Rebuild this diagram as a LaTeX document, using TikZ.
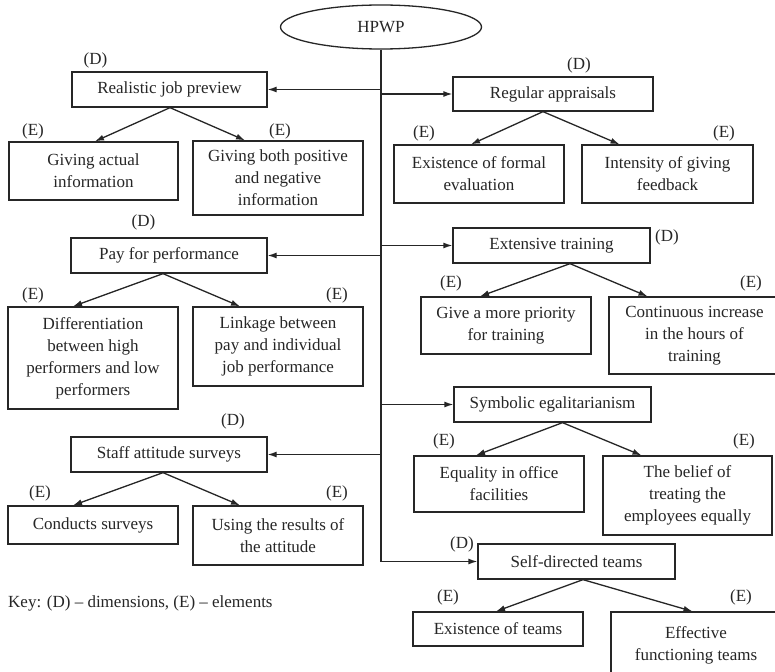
\documentclass[tikz,border=0pt]{standalone}
\usepackage{fontspec}
\setmainfont{Liberation Serif}
\usetikzlibrary{arrows.meta,shapes.geometric}
\definecolor{ink}{HTML}{262626}
\begin{document}
\begin{tikzpicture}[x=1pt,y=-1pt,
  every node/.style={font=\fontsize{17}{22}\selectfont, text=ink},
  box/.style={draw=ink, line width=1.3pt, align=center, inner sep=0pt},
  tag/.style={inner sep=0pt},
  arr/.style={draw=ink, line width=1.3pt, -{Latex[length=9pt,width=6pt]}}]
\fill[white] (0,0) rectangle (775,671);
\useasboundingbox (0,0) rectangle (775,671);

% root
\node[draw=ink, line width=1.3pt, ellipse, minimum width=201pt, minimum height=44pt, inner sep=0pt] (hp) at (381,27) {HPWP};

% dimension boxes
\node[box, minimum width=195pt, minimum height=35pt] (rjp) at (169.5,89.5) {Realistic job preview};
\node[box, minimum width=200pt, minimum height=34pt] (ra)  at (553,94) {Regular appraisals};
\node[box, minimum width=196pt, minimum height=35pt] (pfp) at (169,255.5) {Pay for performance};
\node[box, minimum width=197pt, minimum height=35pt] (et)  at (551.5,245.5) {Extensive training};
\node[box, minimum width=197pt, minimum height=35pt] (se)  at (552.5,404.5) {Symbolic egalitarianism};
\node[box, minimum width=196pt, minimum height=35pt] (sas) at (169,454.5) {Staff attitude surveys};
\node[box, minimum width=197pt, minimum height=35pt] (sdt) at (576.5,561.5) {Self-directed teams};

% element boxes
\node[box, minimum width=169pt, minimum height=58pt] (gai) at (93.5,171) {Giving actual\\information};
\node[box, minimum width=170pt, minimum height=74pt] (gbp) at (278,178) {Giving both positive\\and negative\\information};
\node[box, minimum width=170pt, minimum height=58pt] (efe) at (479,174) {Existence of formal\\evaluation};
\node[box, minimum width=171pt, minimum height=58pt] (igf) at (667.5,174) {Intensity of giving\\feedback};
\node[box, minimum width=170pt, minimum height=102pt] (dhl) at (93,358) {Differentiation\\between high\\performers and low\\performers};
\node[box, minimum width=170pt, minimum height=79pt] (lbp) at (278,346.5) {Linkage between\\pay and individual\\job performance};
\node[box, minimum width=170pt, minimum height=57pt] (gmp) at (506,325.5) {Give a more priority\\for training};
\node[box, minimum width=171pt, minimum height=77pt] (cih) at (694.5,335.5) {Continuous increase\\in the hours of\\training};
\node[box, minimum width=170pt, minimum height=56pt] (eof) at (499,484) {Equality in office\\facilities};
\node[box, minimum width=169pt, minimum height=79pt] (bte) at (687.5,495.5) {The belief of\\treating the\\employees equally};
\node[box, minimum width=170pt, minimum height=38pt] (cs)  at (93,525) {Conducts surveys};
\node[box, minimum width=170pt, minimum height=59pt] (urt) at (278,535.5) {Using the results of\\the attitude};
\node[box, minimum width=170pt, minimum height=34pt] (eot) at (498,629) {Existence of teams};
\node[box, minimum width=170pt, minimum height=66pt] (eft) at (696,645) {Effective\\functioning teams};

% (D) labels
\node[tag] (d1) at (95.5,60) {(D)};
\node[tag] (d2) at (579,65) {(D)};
\node[tag] (d3) at (143.5,222) {(D)};
\node[tag] (d4) at (233,421) {(D)};
\node[tag] (d5) at (667,237) {(D)};
\node[tag] (d6) at (462,544) {(D)};

% (E) labels
\node[tag] (e1) at (33,131) {(E)};
\node[tag] (e2) at (280,131) {(E)};
\node[tag] (e3) at (424,133) {(E)};
\node[tag] (e4) at (724,133) {(E)};
\node[tag] (e5) at (33,295) {(E)};
\node[tag] (e6) at (337,295) {(E)};
\node[tag] (e7) at (451,283) {(E)};
\node[tag] (e8) at (751,283) {(E)};
\node[tag] (e9) at (444,441) {(E)};
\node[tag] (e10) at (744,441) {(E)};
\node[tag] (e11) at (40,493) {(E)};
\node[tag] (e12) at (337,493) {(E)};
\node[tag] (e13) at (448,597) {(E)};
\node[tag] (e14) at (741,597) {(E)};

% key
\node[tag, anchor=west] (key) at (8,603) {Key: (D) -- dimensions, (E) -- elements};

% spine and branches
\draw[arr] (hp.south) -- (hp.south |- sdt.west) -- (sdt.west);
\draw[arr] (hp.south |- rjp.east) -- (rjp.east);
\draw[arr] (hp.south |- ra.west) -- (ra.west);
\draw[arr] (hp.south |- pfp.east) -- (pfp.east);
\draw[arr] (hp.south |- et.west) -- (et.west);
\draw[arr] (hp.south |- se.west) -- (se.west);
\draw[arr] (hp.south |- sas.east) -- (sas.east);

% dimension to element arrows
\draw[arr] ([xshift=0.5pt]rjp.south) -- ([xshift=1.5pt]gai.north);
\draw[arr] ([xshift=0.5pt]rjp.south) -- ([xshift=-33pt]gbp.north);
\draw[arr] ([xshift=-10pt]ra.south) -- ([xshift=-8pt]efe.north);
\draw[arr] ([xshift=-10pt]ra.south) -- ([xshift=-48pt]igf.north);
\draw[arr] ([xshift=-6pt]pfp.south) -- ([xshift=-20pt]dhl.north);
\draw[arr] ([xshift=-6pt]pfp.south) -- ([xshift=-38pt]lbp.north);
\draw[arr] ([xshift=18.5pt]et.south) -- ([xshift=-26pt]gmp.north);
\draw[arr] ([xshift=18.5pt]et.south) -- ([xshift=-47pt]cih.north);
\draw[arr] ([xshift=10pt]se.south) -- ([xshift=-23pt]eof.north);
\draw[arr] ([xshift=10pt]se.south) -- ([xshift=-46pt]bte.north);
\draw[arr] ([xshift=-6pt]sas.south) -- ([xshift=-20pt]cs.north);
\draw[arr] ([xshift=-6pt]sas.south) -- ([xshift=-38pt]urt.north);
\draw[arr] ([xshift=6.5pt]sdt.south) -- ([xshift=-2pt]eot.north);
\draw[arr] ([xshift=6.5pt]sdt.south) -- ([xshift=-3.5pt]eft.north);
\end{tikzpicture}
\end{document}
